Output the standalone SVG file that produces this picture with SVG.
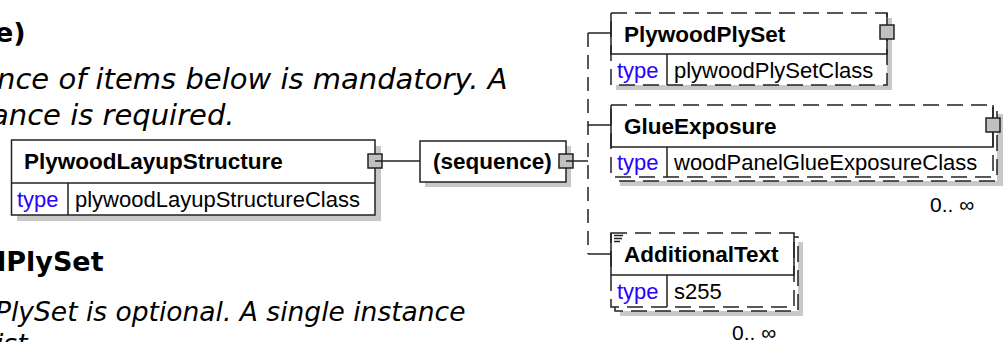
<svg xmlns="http://www.w3.org/2000/svg" width="1003" height="342" viewBox="0 0 1003 342">
<style>
.doc{font-family:"DejaVu Sans","Verdana",sans-serif;font-size:27px;fill:#000}
.h{font-weight:bold}
.it{font-style:italic}
.big{font-size:29px}
.mid{font-size:26.5px}
.nm{font-family:"Liberation Sans",Arial,sans-serif;font-size:22.5px;font-weight:bold;fill:#000}
.tp{font-family:"Liberation Sans",Arial,sans-serif;font-size:22px;fill:#000}
.lk{fill:#2a00ff}
.mul{font-family:"Liberation Sans",Arial,sans-serif;font-size:21px;fill:#000}
.sh{fill:#c8c8c8}
.bx{fill:#fff;stroke:#222;stroke-width:1.5}
.dash{fill:#fff;stroke:#222;stroke-width:1.5;stroke-dasharray:16 8}
.ln{stroke:#222;stroke-width:1.5;fill:none}
.dl{stroke:#222;stroke-width:1.5;fill:none;stroke-dasharray:14 8}
.sq{fill:#c0c0c0;stroke:#222;stroke-width:1.5}
</style>
<g id="doc-text">
<text class="doc h" x="-5" y="42">e)</text>
<text class="doc it big" x="-3" y="89">nce of items below is mandatory. A</text>
<text class="doc it big" x="-9" y="125">ance is required.</text>
<text class="doc h" x="-3" y="271">lPlySet</text>
<text class="doc it mid" x="-5" y="321">PlySet is optional. A single instance</text>
<text class="doc it mid" x="-4" y="353">ist</text>
</g>
<g id="connectors">
<line class="ln" x1="375" y1="161" x2="420" y2="161"/>
<line class="ln" x1="566" y1="161" x2="588" y2="161"/>
<line class="dl" x1="588" y1="33" x2="588" y2="254"/>
<line class="ln" x1="588" y1="33" x2="611" y2="33"/>
<line class="ln" x1="588" y1="125" x2="611" y2="125"/>
<line class="ln" x1="588" y1="254" x2="611" y2="254"/>
</g>
<g id="PlywoodLayupStructure">
<rect class="sh" x="17" y="146" width="364" height="75"/>
<rect class="bx" x="11.5" y="140" width="363.5" height="75"/>
<line class="ln" x1="11.5" y1="183" x2="375" y2="183"/>
<line class="ln" x1="68" y1="183" x2="68" y2="215"/>
<text class="nm" x="24" y="169">PlywoodLayupStructure</text>
<text class="tp lk" x="17" y="207">type</text>
<text class="tp" x="75" y="207">plywoodLayupStructureClass</text>
<rect class="sq" x="368" y="154" width="14" height="14"/>
<line class="ln" x1="375" y1="161" x2="382" y2="161"/>
</g>
<g id="sequence">
<rect class="sh" x="425" y="146" width="146" height="41"/>
<rect class="bx" x="420" y="141" width="146" height="41"/>
<text class="nm" x="433" y="169">(sequence)</text>
<rect class="sq" x="559" y="154" width="14" height="14"/>
<line class="ln" x1="566" y1="161" x2="573" y2="161"/>
</g>
<g id="PlywoodPlySet">
<rect class="sh" x="616" y="18" width="276" height="72"/>
<rect class="dash" x="611" y="13" width="276" height="72"/>
<path class="ln" d="M611 13V54H887V13M667 54V85"/>
<text class="nm" x="624" y="42">PlywoodPlySet</text>
<text class="tp lk" x="617" y="78">type</text>
<text class="tp" x="674" y="78">plywoodPlySetClass</text>
<rect class="sq" x="880" y="25" width="14" height="14"/>
</g>
<g id="GlueExposure">
<rect class="sh" x="620" y="114" width="383" height="72"/>
<rect class="dash" x="615" y="109" width="382" height="72"/>
<rect class="dash" x="611" y="105" width="382" height="72"/>
<path class="ln" d="M611 105V147H993V105M667 147V177"/>
<text class="nm" x="624" y="134">GlueExposure</text>
<text class="tp lk" x="617" y="170">type</text>
<text class="tp" x="674" y="170">woodPanelGlueExposureClass</text>
<rect class="sq" x="986" y="118" width="14" height="14"/>
<text class="mul" x="930" y="212">0.. ∞</text>
</g>
<g id="AdditionalText">
<rect class="sh" x="620" y="242" width="183" height="74"/>
<rect class="dash" x="615" y="237" width="183" height="74"/>
<rect class="dash" x="611" y="233" width="183" height="74"/>
<path class="ln" d="M611 233V275H794V233M667 275V307"/>
<path class="ln" d="M614 235.5H623M614 238.5H622M614 241.5H620" stroke-width="1.2"/>
<text class="nm" x="624" y="262">AdditionalText</text>
<text class="tp lk" x="617" y="299">type</text>
<text class="tp" x="674" y="299">s255</text>
<text class="mul" x="732" y="340">0.. ∞</text>
</g>
</svg>
